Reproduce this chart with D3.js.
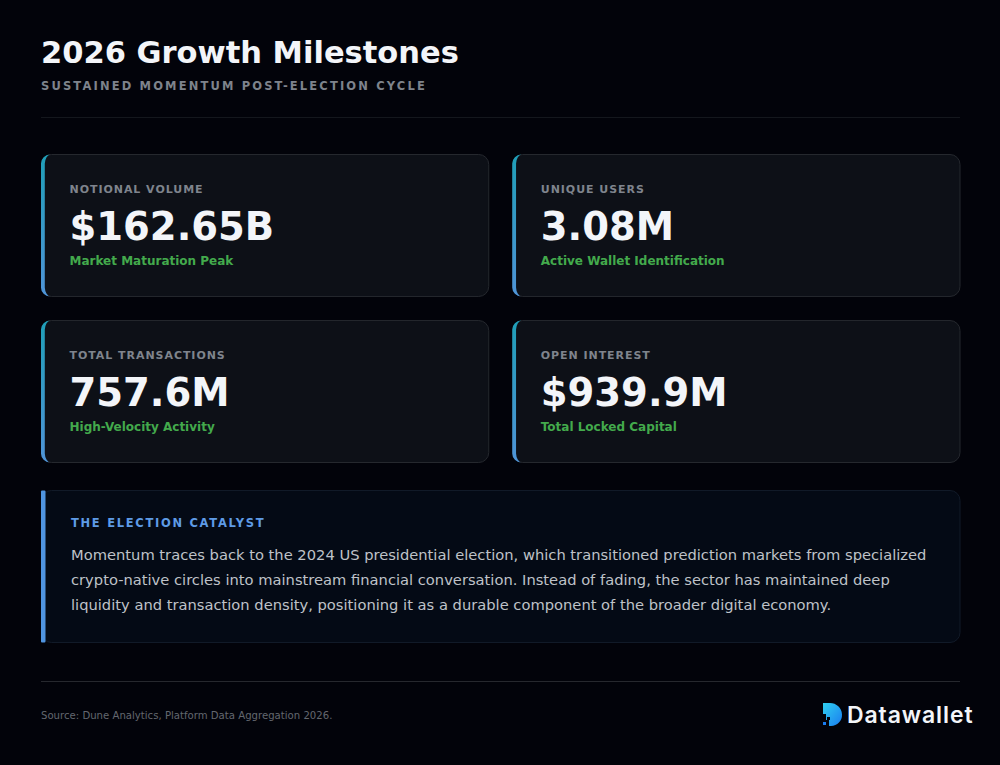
<!DOCTYPE html>
<html>
<head>
<meta charset="utf-8">
<script src="https://cdn.jsdelivr.net/npm/d3@7"></script>
<style>
html,body{margin:0;padding:0;background:#02030a;}
svg{font-family:"DejaVu Sans",sans-serif;}
</style>
</head>
<body>
<div id="plot"></div>
<script>
// data
var metricLabels = ['NOTIONAL VOLUME','UNIQUE USERS','TOTAL TRANSACTIONS','OPEN INTEREST'];
var metricValues = ['$162.65B','3.08M','757.6M','$939.9M'];
var metricNotes = ['Market Maturation Peak','Active Wallet Identification','High-Velocity Activity','Total Locked Capital'];
var calloutLines = [
	'Momentum traces back to the 2024 US presidential election, which transitioned prediction markets from specialized',
	'crypto-native circles into mainstream financial conversation. Instead of fading, the sector has maintained deep',
	'liquidity and transaction density, positioning it as a durable component of the broader digital economy.'
];

var w = 1000, h = 765;
var svg = d3.select('#plot').append('svg')
	.attr('width',w)
	.attr('height',h)
	.style('display','block');

var defs = svg.append('defs');
var accent = defs.append('linearGradient').attr('id','accent')
	.attr('x1',0).attr('y1',0).attr('x2',0).attr('y2',1);
accent.append('stop').attr('offset','0%').attr('stop-color','#1f9fb8');
accent.append('stop').attr('offset','100%').attr('stop-color','#4f94d8');

var logo = defs.append('linearGradient').attr('id','logoFill')
	.attr('x1',0).attr('y1',0).attr('x2',1).attr('y2',1);
logo.append('stop').attr('offset','0%').attr('stop-color','#2fd0f0');
logo.append('stop').attr('offset','100%').attr('stop-color','#1a7cf0');

//background
svg.append('rect').attr('width',w).attr('height',h).attr('fill','#02030a');

//header
svg.append('text').attr('x',41).attr('y',62.5)
	.attr('font-size',30.5).attr('font-weight',700).attr('fill','#f3f5f9')
	.text('2026 Growth Milestones');
svg.append('text').attr('x',41).attr('y',90)
	.attr('font-size',11.5).attr('font-weight',700).attr('letter-spacing',2.15).attr('fill','#7e838c')
	.text('SUSTAINED MOMENTUM POST-ELECTION CYCLE');
svg.append('line').attr('x1',41).attr('x2',960).attr('y1',117.5).attr('y2',117.5)
	.attr('stroke','#14171d');

//cards
var col = d3.scaleBand().domain([0,1]).range([41,960.5]).paddingInner(0.0488);
var row = d3.scaleBand().domain([0,1]).range([154.5,462.5]).paddingInner(0.145);

var cards = svg.selectAll('g.card')
	.data(metricLabels)
	.join('g')
	.attr('class','card')
	.attr('transform',function(d,i){ return 'translate('+col(i%2)+','+row(Math.floor(i/2))+')'; });

cards.append('rect')
	.attr('x',0.5).attr('y',0)
	.attr('width',col.bandwidth()-1).attr('height',row.bandwidth())
	.attr('rx',10)
	.attr('fill','#0d1017')
	.attr('stroke','#25282e');

//left accent, follows the rounded corner
cards.append('path')
	.attr('d','M9 0 A9 9 0 0 0 0 9 V'+(row.bandwidth()-9)+' A9 9 0 0 0 9 '+row.bandwidth()+' A6 10 0 0 1 3.8 '+(row.bandwidth()-9)+' V9 A6 10 0 0 1 9 0 Z')
	.attr('fill','url(#accent)');

cards.append('text').attr('x',28.5).attr('y',38.5)
	.attr('font-size',11).attr('font-weight',700).attr('letter-spacing',0.95).attr('fill','#7f848d')
	.text(function(d){ return d; });
cards.append('text').attr('x',28.5).attr('y',85)
	.attr('font-size',38.5).attr('font-weight',700).attr('fill','#f3f5f9')
	.text(function(d,i){ return metricValues[i]; });
cards.append('text').attr('x',28.5).attr('y',110)
	.attr('font-size',12).attr('font-weight',700).attr('fill','#43aa4c')
	.text(function(d,i){ return metricNotes[i]; });

//callout
var callout = svg.append('g').attr('transform','translate(41,490.5)');
callout.append('rect').attr('x',0.5).attr('width',918.5).attr('height',152).attr('rx',10)
	.attr('fill','#040a15').attr('stroke','#111a28');
callout.append('rect').attr('x',0).attr('y',0).attr('width',4.5).attr('height',152).attr('rx',1)
	.attr('fill','#4f94e0');
callout.append('text').attr('x',30).attr('y',36)
	.attr('font-size',11.5).attr('font-weight',700).attr('letter-spacing',1.7).attr('fill','#5e9be6')
	.text('THE ELECTION CATALYST');
callout.selectAll('text.body')
	.data(calloutLines)
	.join('text')
	.attr('class','body')
	.attr('x',30)
	.attr('y',function(d,i){ return 69+i*25; })
	.attr('font-size',14.7)
	.attr('fill','#bfc2c8')
	.text(function(d){ return d; });

//footer
svg.append('line').attr('x1',41).attr('x2',960).attr('y1',681.5).attr('y2',681.5)
	.attr('stroke','#26282e');
svg.append('text').attr('x',41).attr('y',719)
	.attr('font-size',10.15).attr('fill','#63676f')
	.text('Source: Dune Analytics, Platform Data Aggregation 2026.');

//datawallet mark
var mark = svg.append('g').attr('transform','translate(823,703)');
mark.append('path')
	.attr('d','M0 0 H7 A12 12 0 0 1 19 11.5 A11 11 0 0 1 8 23 H6 V17 H3 V11 H0 Z')
	.attr('fill','url(#logoFill)');
mark.append('rect').attr('x',0).attr('y',19).attr('width',3).attr('height',3).attr('fill','#1a7cf0');
mark.append('rect').attr('x',4).attr('y',14).attr('width',3).attr('height',3).attr('fill','#02030a');
svg.append('text').attr('x',847).attr('y',723)
	.style('font-family','Inter, sans-serif')
	.attr('font-size',23).attr('font-weight',600).attr('letter-spacing',0.9).attr('fill','#f3f5f9')
	.text('Datawallet');
</script>
</body>
</html>
